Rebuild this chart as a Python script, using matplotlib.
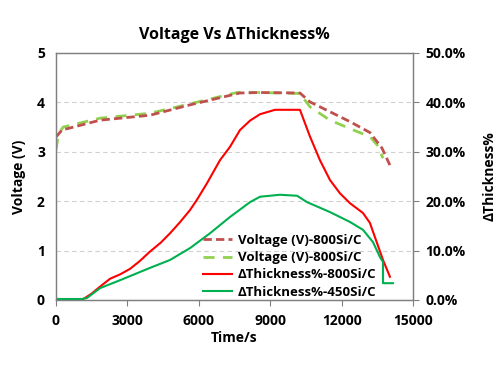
import matplotlib.pyplot as plt

plt.rcParams['font.family'] = ['Open Sans', 'DejaVu Sans']
plt.rcParams['font.weight'] = 'bold'

# voltage curves (V) vs time (s)
t_v1 = [0, 250, 1850, 3950, 5630, 7730, 8570, 10250, 10670, 11510, 12350, 13190, 13690, 14030]
v1 = [3.30, 3.44, 3.64, 3.74, 3.95, 4.19, 4.20, 4.19, 4.01, 3.81, 3.61, 3.39, 3.08, 2.73]

t_v2 = [0, 100, 300, 1850, 3950, 5630, 7600, 8570, 10250, 10670, 11510, 12650, 13190, 13490, 13740]
v2 = [3.04, 3.35, 3.50, 3.68, 3.78, 3.97, 4.20, 4.20, 4.18, 3.91, 3.64, 3.41, 3.31, 3.14, 2.87]

# thickness change (%) vs time (s)
t_th1 = [0, 1090, 1500, 1850, 2270, 2700, 3110, 3500, 3950, 4400, 4790, 5200, 5630, 5910, 6340,
         6890, 7310, 7730, 8150, 8570, 9200, 10250, 10670, 11090, 11510, 11930, 12350, 12900,
         13190, 13490, 13740, 14030]
th1 = [0.0, 0.0, 1.3, 2.7, 4.3, 5.2, 6.3, 7.8, 9.8, 11.6, 13.5, 15.7, 18.2, 20.2, 23.6,
       28.3, 31.0, 34.4, 36.3, 37.6, 38.5, 38.5, 33.1, 28.3, 24.3, 21.6, 19.6, 17.6,
       15.6, 11.5, 8.1, 4.7]

t_th2 = [0, 1090, 1300, 1850, 2690, 3950, 4790, 5630, 6470, 7310, 8150, 8570, 9410, 10130, 10550,
         11510, 12350, 12900, 13320, 13610, 13740, 13740, 14160]
th2 = [0.2, 0.2, 0.4, 2.4, 4.0, 6.5, 8.1, 10.5, 13.5, 16.8, 19.8, 20.9, 21.3, 21.1, 19.8,
       17.8, 15.8, 14.2, 11.7, 8.7, 7.7, 3.4, 3.4]

labels = ['Voltage (V)-800Si/C', 'Voltage (V)-800Si/C', 'ΔThickness%-800Si/C', 'ΔThickness%-450Si/C']
x_ticks = [0, 3000, 6000, 9000, 12000, 15000]

fig = plt.figure(figsize=(5, 3.67), dpi=100)
ax = fig.add_axes([0.112, 0.1826, 0.714, 0.673])
ax2 = ax.twinx()

l1, = ax.plot(t_v1, v1, color='#C0504D', lw=2, ls=(0, (3, 1.5)), zorder=3)
l2, = ax.plot(t_v2, v2, color='#92D050', lw=2, ls=(0, (4, 3)), zorder=2)
l3, = ax2.plot(t_th1, th1, color='#FF0000', lw=1.5)
l4, = ax2.plot(t_th2, th2, color='#00B050', lw=1.5)

ax.set_xlim(0, 15000)
ax.set_ylim(0, 5)
ax2.set_ylim(0, 50)
ax.set_xticks(x_ticks)
ax.set_yticks([0, 1, 2, 3, 4, 5])
ax2.set_yticks([0, 10, 20, 30, 40, 50])
ax2.set_yticklabels([f'{v:.1f}%' for v in [0, 10, 20, 30, 40, 50]])
ax.grid(axis='y', color='#D0D0D0', ls=(0, (4, 3)), lw=0.8)
ax.set_axisbelow(True)

for a in (ax, ax2):
    for s in a.spines.values():
        s.set_color('#808080')
        s.set_linewidth(0.9)
ax.tick_params(axis='y', length=0, labelsize=10, pad=8)
ax.tick_params(axis='x', length=4, color='#808080', labelsize=10, pad=6)
ax2.tick_params(axis='y', length=4, color='#808080', labelsize=10, pad=5)

ax.set_title('Voltage Vs ΔThickness%', fontsize=11.5, fontweight='bold', pad=10)
ax.set_xlabel('Time/s', fontsize=10, fontweight='bold', labelpad=2)
ax.set_ylabel('Voltage (V)', fontsize=10, fontweight='bold', labelpad=8)
ax2.set_ylabel('ΔThickness%', fontsize=10, fontweight='bold', labelpad=12)

fig.legend([l1, l2, l3, l4], labels, loc='lower left', bbox_to_anchor=(0.396, 0.172),
           frameon=False, fontsize=9.5, handlelength=2.2, handletextpad=0.4,
           labelspacing=0.32, borderaxespad=0)

fig.savefig('out.png', dpi=100)
